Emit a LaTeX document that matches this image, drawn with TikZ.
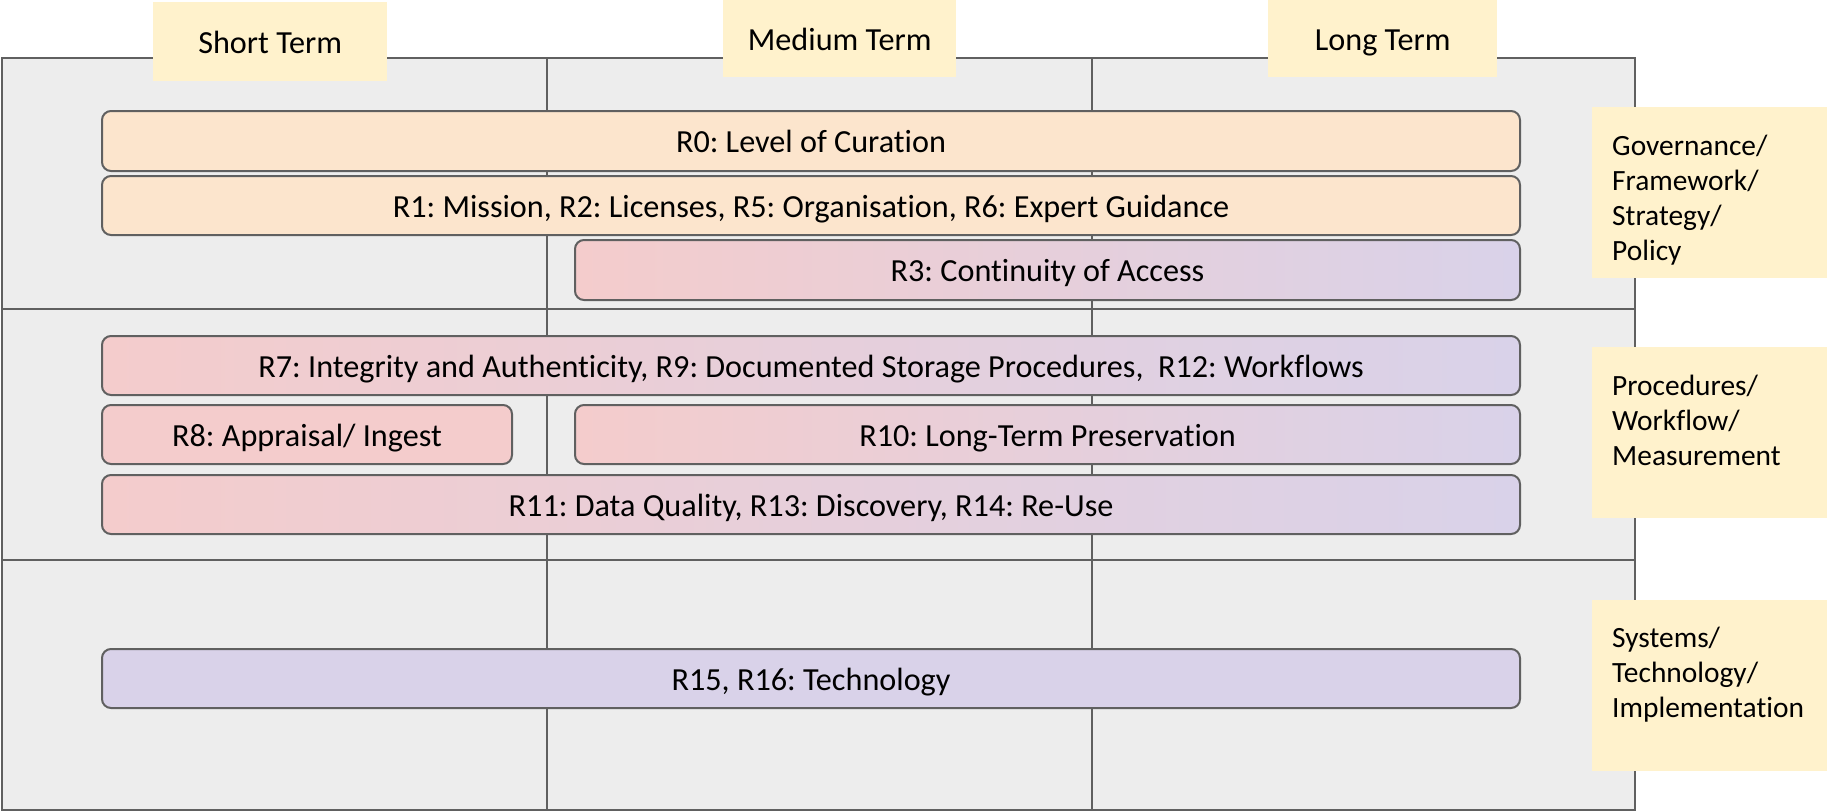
\documentclass[tikz,border=0pt]{standalone}
\usepackage{fontspec}
\setmainfont{Carlito}[Ligatures=NoCommon]
\frenchspacing
\definecolor{notec}{HTML}{FFF2CC}
\definecolor{gridbg}{HTML}{EDEDED}
\definecolor{gridline}{HTML}{606060}
\definecolor{orangec}{HTML}{FCE5CD}
\definecolor{pinkc}{HTML}{F4CCCC}
\definecolor{purplec}{HTML}{D9D2E9}
\tikzset{
  lbl/.style={font=\fontsize{32.2}{38}\selectfont, text=black, text height=25pt, text depth=2pt},
  bar/.style={lbl, draw=gridline, line width=2pt, rounded corners=9pt, anchor=north west, inner sep=0pt},
  orangebar/.style={bar, fill=orangec},
  pinkbar/.style={bar, fill=pinkc},
  purplebar/.style={bar, fill=purplec},
  mixbar/.style={bar, left color=pinkc, right color=purplec},
  termbox/.style={lbl, fill=notec, anchor=north west, inner sep=0pt},
  sidebox/.style={fill=notec, anchor=north west, inner sep=0pt, minimum width=236pt, minimum height=171pt},
  sidetext/.style={font=\fontsize{29.4}{35}\selectfont, text=black, anchor=base west, inner sep=0pt},
}
\newcommand{\barat}[6]{% style, name, x1, y1, x2, y2 ; text follows
  \node[#1, minimum width={#5-#3}, minimum height={#6-#4}] (#2) at (#3,#4)}
\begin{document}
\begin{tikzpicture}[x=1pt, y=-1pt]
\useasboundingbox (0,0) rectangle (1827,811);

% grid: three terms by three layers
\fill[gridbg] (2,58) rectangle (1635,810);
\draw[gridline, line width=2pt] (547,58) -- (547,810) (1092,58) -- (1092,810)
  (2,309) -- (1635,309) (2,560) -- (1635,560);
\draw[gridline, line width=2pt] (2,58) rectangle (1635,810);

% term headers
\node[termbox, minimum width=234pt, minimum height=79pt] (short) at (153,2) {Short Term};
\node[termbox, minimum width=233pt, minimum height=77pt] (medium) at (723,0) {Medium Term};
\node[termbox, minimum width=229pt, minimum height=77pt] (long) at (1268,0) {Long Term};

% governance layer
\barat{orangebar}{r0}{101}{110}{1519}{170} {R0: Level of Curation};
\barat{orangebar}{r1}{101}{175}{1519}{234} {R1: Mission, R2: Licenses, R5: Organisation, R6: Expert Guidance};
\barat{mixbar}{r3}{574}{239}{1519}{299} {R3: Continuity of Access};

% procedures layer
\barat{mixbar}{r7}{101}{335}{1519}{394} {R7: Integrity and Authenticity, R9: Documented Storage Procedures, \ R12: Workflows};
\barat{pinkbar}{r8}{101}{404}{511}{463} {R8: Appraisal/ Ingest};
\barat{mixbar}{r10}{574}{404}{1519}{463} {R10: Long-Term Preservation};
\barat{mixbar}{r11}{101}{474}{1519}{533} {R11: Data Quality, R13: Discovery, R14: Re-Use};

% systems layer
\barat{purplebar}{r15}{101}{648}{1519}{707} {R15, R16: Technology};

% layer labels
\node[sidebox] (gov) at (1592,107) {};
\node[sidetext] (govtext) at (1612,155) {\vtop{\hbox{Governance/}\hbox{Framework/}\hbox{Strategy/}\hbox{Policy}}};
\node[sidebox] (proc) at (1592,347) {};
\node[sidetext] (proctext) at (1612,395) {\vtop{\hbox{Procedures/}\hbox{Workflow/}\hbox{Measurement}}};
\node[sidebox] (sys) at (1592,600) {};
\node[sidetext] (systext) at (1612,647) {\vtop{\hbox{Systems/}\hbox{Technology/}\hbox{Implementation}}};
\end{tikzpicture}
\end{document}
